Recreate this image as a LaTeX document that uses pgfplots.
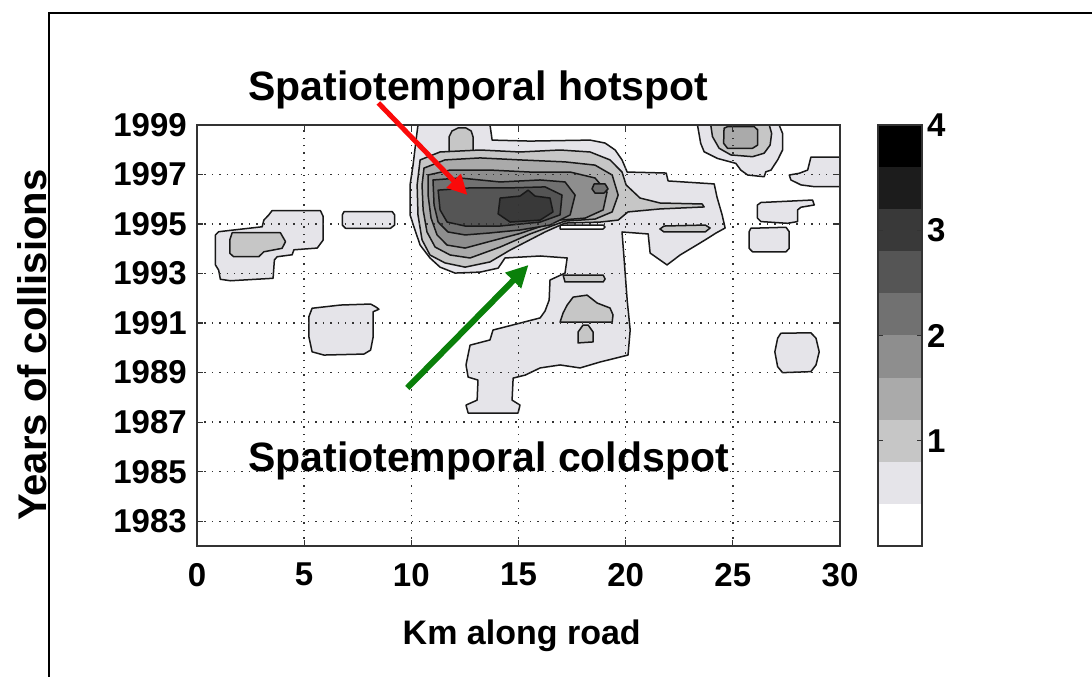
\documentclass[border=0pt]{standalone}
\usepackage{fontspec}
\setmainfont{Liberation Sans}
\usepackage{pgfplots}
\pgfplotsset{compat=1.18}
\usetikzlibrary{arrows.meta}

\definecolor{c0}{gray}{1}
\definecolor{c1}{RGB}{229,228,233}
\definecolor{c2}{gray}{0.778}
\definecolor{c3}{gray}{0.667}
\definecolor{c4}{gray}{0.556}
\definecolor{c5}{gray}{0.444}
\definecolor{c6}{gray}{0.333}
\definecolor{c7}{gray}{0.222}
\definecolor{c8}{gray}{0.111}
\definecolor{c9}{gray}{0}
\definecolor{arrred}{RGB}{250,10,10}
\definecolor{arrgreen}{RGB}{10,128,10}

\newcommand\tickfont{\fontsize{33bp}{36bp}\selectfont\bfseries}
\pgfplotsset{lv/.style={draw=black!90, line width=1.5bp, line join=round, fill=#1}}

\begin{document}
\begin{tikzpicture}[x=1bp,y=1bp]
\useasboundingbox[fill=white] (0,0) rectangle (1092,677);
\draw[line width=2bp] (49,0) -- (49,664) -- (1092,664);

\begin{axis}[
  at={(197bp,131bp)}, anchor=south west,
  scale only axis, width=643bp, height=421bp,
  xmin=0, xmax=30, ymin=1982, ymax=1999,
  xtick={0,5,10,15,20,25,30},
  ytick={1983,1985,1987,1989,1991,1993,1995,1997,1999},
  grid=major,
  major grid style={black!80, line width=1.4bp, dash pattern=on 1.4bp off 6bp},
  axis on top, clip=false,
  axis line style={black!80, line width=1.3bp},
  tick align=inside, major tick length=6bp,
  tick style={black!80, line width=1.3bp},
  /pgf/number format/assume math mode=true,
  /pgf/number format/1000 sep={},
  tick label style={font=\tickfont, inner sep=0pt},
  xticklabel style={yshift=-17bp},
  yticklabel style={xshift=-10bp},
  xlabel={Km along road}, ylabel={Years of collisions},
  xlabel style={font=\fontsize{34bp}{38bp}\selectfont\bfseries, at={(axis description cs:0.505,-0.214)}, anchor=center},
  ylabel style={font=\fontsize{40bp}{44bp}\selectfont\bfseries, at={(axis description cs:-0.257,0.477)}, anchor=center},
]
% ---- main cluster
\addplot[lv=c1] coordinates {(10.31,1999) (13.67,1999) (13.77,1998.39) (15.54,1998.35) (18.34,1998.39) (19.04,1998.27) (19.51,1997.99) (19.83,1997.59) (20.07,1997.10) (21.89,1997.06) (21.98,1996.74) (24.13,1996.62) (24.26,1996.09) (24.50,1995.37) (24.64,1994.84) (24.22,1994.64) (23.71,1994.36) (22.54,1993.75) (21.93,1993.35) (21.60,1993.55) (21.14,1993.83) (21.05,1994.60) (19.83,1994.68) (19.93,1993.55) (20.07,1991.93) (20.21,1990.72) (20.11,1989.71) (18.81,1989.43) (17.87,1989.19) (16.94,1989.31) (16.01,1989.19) (15.31,1988.90) (14.75,1988.78) (14.70,1987.89) (15.07,1987.69) (14.98,1987.37) (12.65,1987.37) (12.55,1987.69) (13.07,1987.89) (13.11,1988.70) (12.65,1988.82) (12.55,1989.31) (12.74,1990.11) (13.67,1990.32) (13.81,1990.72) (15.07,1991.00) (16.01,1991.21) (16.24,1991.49) (16.43,1991.93) (16.47,1992.74) (17.17,1993.02) (17.27,1993.63) (16.01,1993.71) (14.37,1993.63) (14.05,1993.22) (13.21,1993.06) (12.04,1993.02) (11.34,1993.26) (10.87,1993.63) (10.41,1994.15) (10.17,1994.76) (9.94,1995.37) (9.94,1996.58) (10.08,1997.38) (10.22,1998.39)} --cycle;
\addplot[lv=c0] coordinates {(16.94,1994.96) (18.95,1994.96) (19.04,1994.88) (18.95,1994.80) (16.94,1994.80)} --cycle;
\addplot[lv=c2] coordinates {(11.76,1997.85) (11.76,1998.52) (11.90,1998.76) (12.18,1998.88) (12.55,1998.88) (12.79,1998.76) (12.88,1998.52) (12.88,1997.85)} --cycle;
\addplot[lv=c2] coordinates {(10.41,1997.59) (11.34,1997.91) (13.21,1997.99) (15.07,1997.91) (16.94,1997.99) (18.34,1997.91) (19.27,1997.59) (19.83,1997.10) (20.02,1996.58) (20.67,1996.05) (21.60,1995.85) (23.57,1995.81) (23.66,1995.69) (21.60,1995.61) (20.11,1995.49) (19.65,1995.16) (18.81,1995.08) (17.17,1995.04) (16.24,1994.68) (14.61,1993.95) (13.67,1993.47) (12.51,1993.26) (11.57,1993.43) (10.87,1993.75) (10.50,1994.36) (10.31,1995.37) (10.27,1996.58)} --cycle;
\addplot[lv=c3] coordinates {(10.59,1997.26) (11.57,1997.59) (13.21,1997.67) (15.07,1997.59) (17.17,1997.51) (18.57,1997.38) (19.37,1996.98) (19.65,1996.17) (19.37,1995.49) (18.57,1995.20) (17.17,1995.12) (15.54,1994.60) (14.14,1994.07) (12.74,1993.63) (11.81,1993.75) (11.11,1994.07) (10.73,1994.68) (10.55,1995.57) (10.50,1996.58)} --cycle;
\addplot[lv=c4] coordinates {(10.78,1996.98) (11.81,1997.18) (13.67,1997.18) (15.54,1997.10) (17.41,1997.10) (18.57,1996.86) (19.13,1996.29) (18.95,1995.57) (18.11,1995.24) (16.94,1995.16) (15.07,1994.62) (13.67,1994.30) (12.51,1994.03) (11.67,1994.15) (11.20,1994.56) (10.92,1995.24) (10.78,1996.17)} --cycle;
\addplot[lv=c5] coordinates {(11.01,1996.78) (12.27,1996.86) (14.14,1996.70) (16.01,1996.78) (17.17,1996.70) (17.64,1996.17) (17.41,1995.37) (16.47,1994.96) (15.07,1994.76) (13.67,1994.64) (12.51,1994.56) (11.71,1994.68) (11.25,1995.08) (11.06,1995.77)} --cycle;
\addplot[lv=c5] coordinates {(18.53,1996.62) (19.04,1996.62) (19.18,1996.42) (18.99,1996.25) (18.57,1996.25) (18.43,1996.42)} --cycle;
\addplot[lv=c6] coordinates {(11.25,1996.37) (12.74,1996.46) (14.61,1996.46) (16.24,1996.50) (17.03,1996.17) (16.94,1995.37) (16.01,1995.08) (14.14,1994.92) (12.51,1994.92) (11.67,1995.08) (11.34,1995.57)} --cycle;
\addplot[lv=c7] coordinates {(14.14,1996.05) (15.07,1996.13) (15.45,1996.37) (15.77,1996.13) (16.47,1996.05) (16.61,1995.49) (16.01,1995.16) (14.61,1995.08) (14.05,1995.41)} --cycle;
\addplot[lv=c2] coordinates {(17.27,1991.73) (17.55,1992.05) (18.20,1992.13) (18.67,1991.81) (19.27,1991.61) (19.41,1991.33) (19.37,1991.04) (16.94,1991.04) (17.08,1991.41)} --cycle;
\addplot[lv=c2] coordinates {(17.78,1990.64) (18.01,1990.92) (18.25,1990.92) (18.48,1990.64) (18.48,1990.24) (17.78,1990.20)} --cycle;
\addplot[lv=c2] coordinates {(17.08,1992.94) (18.95,1992.94) (19.04,1992.78) (18.95,1992.66) (17.17,1992.66)} --cycle;
\addplot[lv=c2] coordinates {(21.79,1994.92) (23.71,1994.96) (23.94,1994.84) (23.71,1994.68) (21.79,1994.68) (21.60,1994.80)} --cycle;
% ---- left blobs
\addplot[lv=c1] coordinates {(3.50,1995.54) (5.76,1995.54) (5.89,1995.30) (5.89,1994.36) (5.61,1994.03) (4.52,1993.96) (4.44,1993.76) (3.74,1993.68) (3.61,1993.55) (3.55,1992.81) (1.56,1992.71) (1.09,1992.77) (1.01,1993.14) (0.86,1993.35) (0.86,1994.56) (1.01,1994.69) (1.71,1994.76) (3.04,1994.89) (3.12,1995.16) (3.35,1995.37)} --cycle;
\addplot[lv=c2] coordinates {(1.64,1994.65) (3.89,1994.65) (4.13,1994.29) (3.97,1994.02) (3.12,1993.88) (2.88,1993.68) (1.71,1993.68) (1.53,1993.82) (1.53,1994.36)} --cycle;
\addplot[lv=c1] coordinates {(6.86,1995.50) (9.11,1995.50) (9.22,1995.37) (9.22,1994.96) (9.03,1994.83) (6.93,1994.83) (6.78,1994.96) (6.78,1995.37)} --cycle;
\addplot[lv=c1] coordinates {(5.37,1991.60) (6.70,1991.73) (8.10,1991.77) (8.33,1991.66) (8.49,1991.56) (8.22,1991.46) (8.22,1990.45) (8.10,1989.91) (7.79,1989.75) (5.92,1989.71) (5.37,1989.84) (5.22,1990.45) (5.22,1991.26)} --cycle;
% ---- right blobs
\addplot[lv=c1] coordinates {(27.24,1990.59) (28.64,1990.61) (28.88,1990.39) (29.03,1989.84) (28.88,1989.31) (28.64,1989.04) (27.32,1989.00) (27.09,1989.24) (26.96,1989.84) (27.09,1990.39)} --cycle;
\addplot[lv=c1] coordinates {(23.35,1999) (23.50,1998.26) (23.66,1997.92) (24.28,1997.65) (25.14,1997.45) (25.37,1997.18) (25.69,1996.98) (26.46,1996.91) (26.54,1997.11) (26.78,1997.18) (27.09,1997.59) (27.32,1997.99) (27.32,1998.66) (27.16,1999)} --cycle;
\addplot[lv=c2] coordinates {(23.97,1999) (24.05,1998.53) (24.36,1998.06) (24.91,1997.79) (25.92,1997.72) (26.46,1997.86) (26.74,1998.19) (26.81,1998.66) (26.70,1999)} --cycle;
\addplot[lv=c3] coordinates {(24.59,1998.87) (24.75,1998.93) (26.00,1998.93) (26.16,1998.80) (26.16,1998.19) (25.92,1998.06) (24.75,1998.06) (24.57,1998.26)} --cycle;
\addplot[lv=c1] coordinates {(28.64,1997.70) (30,1997.70) (30,1996.51) (28.80,1996.51) (28.18,1996.58) (27.71,1996.78) (27.63,1996.98) (28.10,1997.05) (28.49,1997.18) (28.57,1997.45)} --cycle;
\addplot[lv=c1] coordinates {(26.31,1995.87) (28.72,1995.97) (28.80,1995.77) (28.18,1995.68) (28.02,1995.57) (28.02,1995.10) (27.55,1995.03) (26.31,1995.10) (26.15,1995.24) (26.15,1995.77)} --cycle;
\addplot[lv=c1] coordinates {(25.84,1994.83) (27.48,1994.87) (27.63,1994.69) (27.63,1994.02) (27.48,1993.88) (25.92,1993.88) (25.76,1994.02) (25.76,1994.69)} --cycle;
% anchor coordinates for annotations
\coordinate (rt) at (axis cs:8.46,1999.89);
\coordinate (rh) at (axis cs:12.62,1996.17);
\coordinate (gt) at (axis cs:9.81,1988.38);
\coordinate (gh) at (axis cs:15.47,1993.35);
\coordinate (hs) at (axis cs:2.38,1999.97);
\coordinate (cs) at (axis cs:2.38,1984.99);
\end{axis}

\draw[arrred, line width=5bp, -{Triangle[length=20bp,width=19bp]}] (rt) -- (rh);
\draw[arrgreen, line width=6bp, -{Triangle[length=22bp,width=21bp]}] (gt) -- (gh);
\node[anchor=base west, inner sep=0pt, font=\fontsize{41bp}{44bp}\selectfont\bfseries] at (hs) {Spatiotemporal hotspot};
\node[anchor=base west, inner sep=0pt, font=\fontsize{41bp}{44bp}\selectfont\bfseries] at (cs) {Spatiotemporal coldspot};

% colorbar
\begin{axis}[
  at={(878bp,131bp)}, anchor=south west,
  scale only axis, width=44bp, height=421bp,
  xmin=0, xmax=1, ymin=0, ymax=4,
  xtick=\empty, ytick={1,2,3,4},
  ytick pos=both, yticklabel pos=right,
  axis on top,
  axis line style={black!80, line width=1.3bp},
  tick align=inside, major tick length=5bp,
  tick style={black!80, line width=1.3bp},
  /pgf/number format/assume math mode=true,
  tick label style={font=\tickfont, inner sep=0pt},
  yticklabel style={xshift=5bp},
]
\addplot[fill=c0, draw=none] coordinates {(0,0) (1,0) (1,0.4) (0,0.4)} --cycle;
\addplot[fill=c1, draw=none] coordinates {(0,0.4) (1,0.4) (1,0.8) (0,0.8)} --cycle;
\addplot[fill=c2, draw=none] coordinates {(0,0.8) (1,0.8) (1,1.2) (0,1.2)} --cycle;
\addplot[fill=c3, draw=none] coordinates {(0,1.2) (1,1.2) (1,1.6) (0,1.6)} --cycle;
\addplot[fill=c4, draw=none] coordinates {(0,1.6) (1,1.6) (1,2.0) (0,2.0)} --cycle;
\addplot[fill=c5, draw=none] coordinates {(0,2.0) (1,2.0) (1,2.4) (0,2.4)} --cycle;
\addplot[fill=c6, draw=none] coordinates {(0,2.4) (1,2.4) (1,2.8) (0,2.8)} --cycle;
\addplot[fill=c7, draw=none] coordinates {(0,2.8) (1,2.8) (1,3.2) (0,3.2)} --cycle;
\addplot[fill=c8, draw=none] coordinates {(0,3.2) (1,3.2) (1,3.6) (0,3.6)} --cycle;
\addplot[fill=c9, draw=none] coordinates {(0,3.6) (1,3.6) (1,4.0) (0,4.0)} --cycle;
\end{axis}
\end{tikzpicture}
\end{document}
